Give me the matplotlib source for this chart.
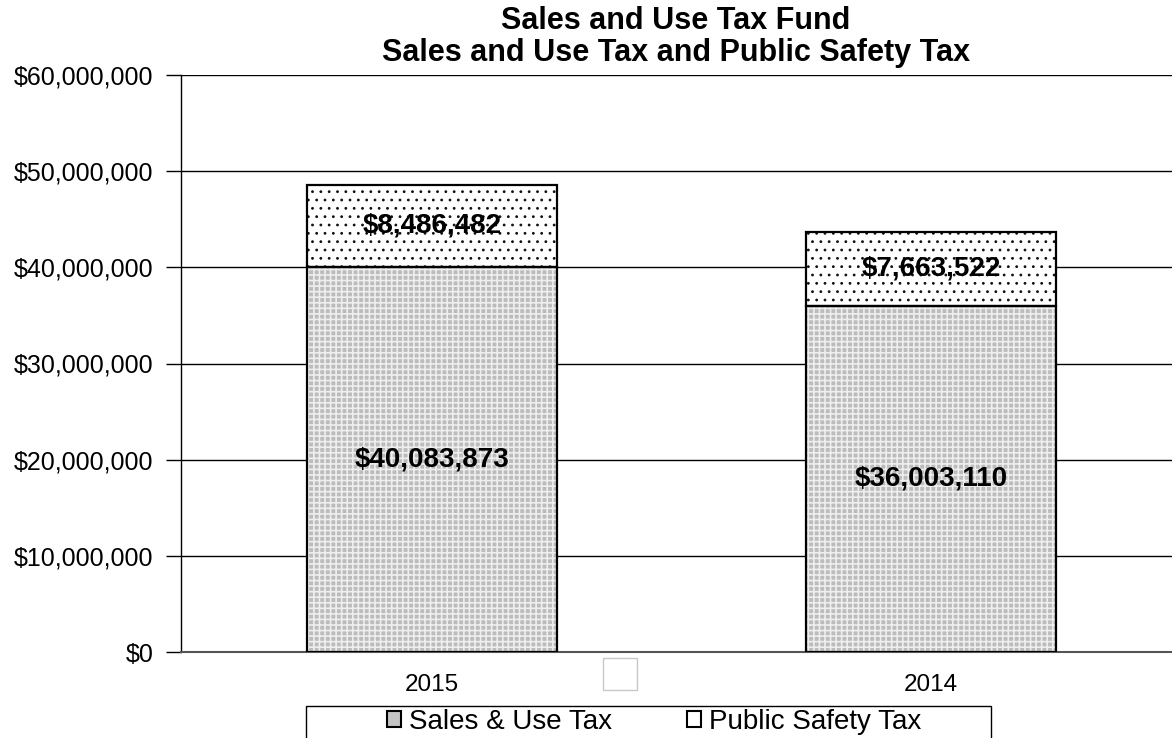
import matplotlib.pyplot as plt
import matplotlib.patches as mpatches
from matplotlib.ticker import FuncFormatter
import numpy as np

plt.rcParams['font.family'] = ['Liberation Sans', 'DejaVu Sans']

# Dados
anos = ['2015', '2014']
sales_use = [40083873, 36003110]
public_safety = [8486482, 7663522]

fig = plt.figure(figsize=(11.72, 7.38), dpi=100)
ax = fig.add_axes([181 / 1172, 1 - 652 / 738, (1172 - 181) / 1172, (652 - 75) / 738])

x = np.arange(len(anos))
largura = 0.5

# preenchimento com textura (hatch na cor da borda)
plt.rcParams['hatch.linewidth'] = 1.2
ax.bar(x, sales_use, width=largura, color='#bcbcbc', edgecolor='#eeeeee', linewidth=0,
       hatch='+++', zorder=3)
plt.rcParams['hatch.linewidth'] = 0.8
ax.bar(x, public_safety, width=largura, bottom=sales_use, color='white', edgecolor='#111111',
       linewidth=0, hatch='..', zorder=3)
# contornos
ax.bar(x, sales_use, width=largura, fill=False, edgecolor='black', linewidth=1.6, zorder=4)
ax.bar(x, public_safety, width=largura, bottom=sales_use, fill=False, edgecolor='black',
       linewidth=1.6, zorder=4)

# Rotulos dos valores
for i in range(len(anos)):
    ax.text(x[i], sales_use[i] / 2, f'${sales_use[i]:,}', ha='center', va='center',
            fontsize=20, fontweight='bold', zorder=5)
    ax.text(x[i], sales_use[i] + public_safety[i] / 2, f'${public_safety[i]:,}', ha='center',
            va='center', fontsize=20, fontweight='bold', zorder=5)

ax.set_xlim(-0.503, 1.483)
ax.set_ylim(0, 60000000)
ax.set_yticks(np.arange(0, 60000001, 10000000))
ax.yaxis.set_major_formatter(FuncFormatter(lambda v, p: f'${int(v):,}'))
ax.set_xticks(x)
ax.set_xticklabels(anos)
ax.tick_params(axis='y', labelsize=18, length=11, width=1, pad=9)
ax.tick_params(axis='x', labelsize=17.5, length=0, pad=16)
ax.grid(axis='y', color='black', linewidth=1, zorder=0)
ax.set_axisbelow(True)
for s in ['top', 'right']:
    ax.spines[s].set_visible(False)
ax.spines['left'].set_linewidth(1)
ax.spines['bottom'].set_color('#555555')
ax.spines['bottom'].set_linewidth(1.5)

fig.text(676 / 1172, 1 - 37 / 738, 'Sales and Use Tax Fund\nSales and Use Tax and Public Safety Tax',
         ha='center', va='center', fontsize=22, fontweight='bold', linespacing=1.05)

# Legenda
h1 = mpatches.Patch(facecolor='#c4c4c4', edgecolor='black', linewidth=1.5, label='Sales & Use Tax')
h2 = mpatches.Patch(facecolor='white', edgecolor='black', linewidth=1.5, label='Public Safety Tax')
fig.add_artist(mpatches.Rectangle((306 / 1172, -0.05), (991 - 306) / 1172, 0.05 + 32 / 738,
                                  transform=fig.transFigure, facecolor='white',
                                  edgecolor='black', linewidth=1))
fig.legend(handles=[h1, h2], loc='center', bbox_to_anchor=(654 / 1172, 1 - 722 / 738),
           ncol=2, fontsize=20, frameon=False, handlelength=0.5, handleheight=0.5,
           handletextpad=0.3, columnspacing=2.7, borderpad=0, borderaxespad=0)

# quadradinho branco
fig.add_artist(mpatches.Rectangle((603 / 1172, 1 - 690 / 738), 34 / 1172, 32 / 738,
                                  transform=fig.transFigure, facecolor='white',
                                  edgecolor='#c8c8c8', linewidth=1))

fig.savefig('out.png', dpi=100)
